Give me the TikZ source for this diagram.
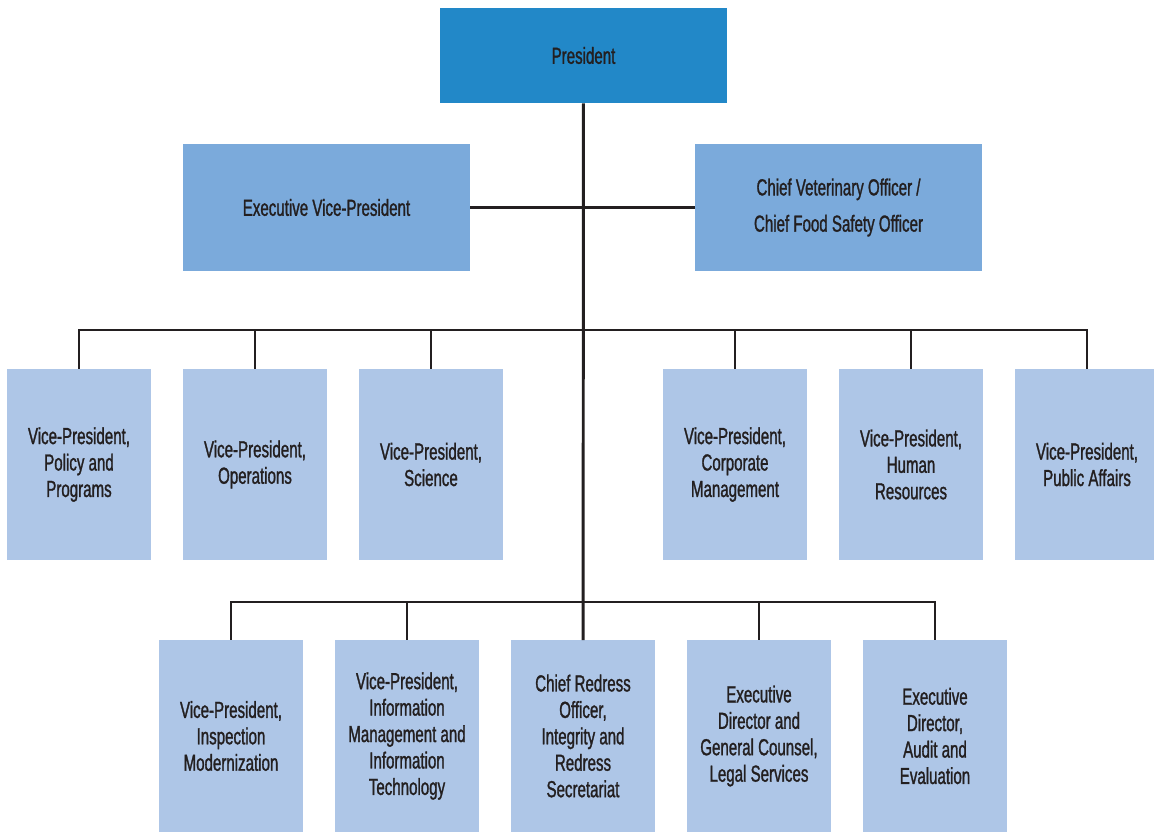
\documentclass[tikz,border=0pt]{standalone}
\usepackage{fontspec}
\setmainfont{Liberation Sans}[FakeStretch=0.65, FakeBold=1.2]
\usepackage{tikz}
\usetikzlibrary{positioning}
\definecolor{presblue}{RGB}{34,136,200}
\definecolor{execblue}{RGB}{123,170,219}
\definecolor{unitblue}{RGB}{174,198,231}
\definecolor{inkdark}{RGB}{35,31,32}

\begin{document}
\begin{tikzpicture}[x=0.025cm, y=-0.025cm,
        box/.style = {inner sep=0pt, align=center, text=inkdark,
            font=\fontsize{16.5}{18.8}\selectfont},
        top/.style = {box, fill=presblue, minimum width=7.175cm, minimum height=2.375cm},
        exec/.style = {box, fill=execblue, minimum width=7.175cm, minimum height=3.175cm},
        unit/.style = {box, fill=unitblue, minimum width=3.6cm, minimum height=4.775cm},
        link/.style = {draw=inkdark, line width=2.1pt}
        ]
        \useasboundingbox (0,0) rectangle (1154,831);

        \node[top] (pres) at (583.5,55.5) {President};
        \node[exec] (evp) at (326.5,207.5) {Executive Vice-President};
        \node[exec] (cvo) at (838.5,207.5) {Chief Veterinary Officer /\\[7pt] Chief Food Safety Officer};

        \node[unit] (vppp)  at (79,464.5)   {Vice-President,\\Policy and\\Programs};
        \node[unit] (vpops) at (255,464.5)  {Vice-President,\\Operations};
        \node[unit] (vpsci) at (431,464.5)  {Vice-President,\\Science};
        \node[unit] (vpcm)  at (735,464.5)  {Vice-President,\\Corporate\\Management};
        \node[unit] (vphr)  at (911,464.5)  {Vice-President,\\Human\\Resources};
        \node[unit] (vppa)  at (1087,464.5) {Vice-President,\\Public Affairs};

        \node[unit] (vpim)   at (231,736) {Vice-President,\\Inspection\\Modernization};
        \node[unit] (vpimit) at (407,736) {Vice-President,\\Information\\Management and\\Information\\Technology};
        \node[unit] (cro)    at (583,736) {Chief Redress\\Officer,\\Integrity and\\Redress\\Secretariat};
        \node[unit] (edgc)   at (759,736) {Executive\\Director and\\General Counsel,\\Legal Services};
        \node[unit] (edae)   at (935,736) {Executive\\Director,\\Audit and\\Evaluation};

        \coordinate (bus1) at (583,330);
        \coordinate (bus2) at (583,602);

        \draw[link] (pres) -- (cro);
        \draw[link] (evp) -- (cvo);

        \foreach \n in {vppp,vpops,vpsci,vpcm,vphr,vppa}
            \draw[link] (bus1) -| (\n.north);
        \foreach \n in {vpim,vpimit,edgc,edae}
            \draw[link] (bus2) -| (\n.north);
    \end{tikzpicture}
\end{document}
